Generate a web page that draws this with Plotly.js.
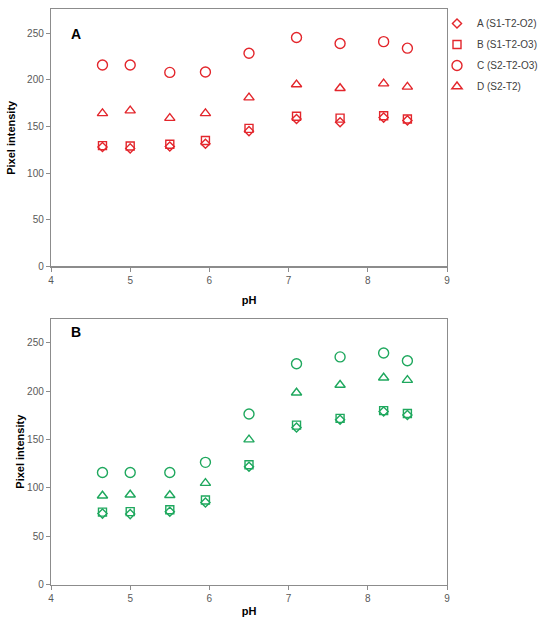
<!DOCTYPE html>
<html>
<head>
<meta charset="utf-8">
<script src="https://cdn.plot.ly/plotly-3.0.1.min.js"></script>
<style>html,body{margin:0;padding:0;background:#fff;}#chart{width:540px;height:618px;}</style>
</head>
<body>
<div id="chart"></div>
<script>
// pH values
const pH = [4.65, 5.0, 5.5, 5.95, 6.5, 7.1, 7.65, 8.2, 8.5];
const seriesNames = ["A (S1-T2-O2)", "B (S1-T2-O3)", "C (S2-T2-O3)", "D (S2-T2)"];
// Panel A
const panelA_A = [128, 126.5, 128.5, 131.5, 145, 158, 154.5, 159.5, 156.5];
const panelA_B = [129.5, 129, 131, 135, 148, 161, 159, 161.5, 158];
const panelA_C = [216, 216, 208, 208.5, 228.5, 245.5, 239, 241, 234];
const panelA_D = [164, 167, 159, 164, 181, 195, 191, 196, 192.5];
// Panel B
const panelB_A = [73.5, 73, 75.5, 85, 122, 162.5, 170.5, 179, 175.5];
const panelB_B = [75, 75.5, 77.5, 87.5, 124, 165, 172, 180, 177];
const panelB_C = [116, 116, 116, 126.5, 176.5, 228.5, 235.5, 239.5, 231.5];
const panelB_D = [92, 93, 92.5, 105, 150, 198.5, 206.5, 214, 211.5];
const xTicks = [4, 5, 6, 7, 8, 9];
const yTicks = [0, 50, 100, 150, 200, 250];

const red = "#e3262c";
const green = "#1fa85e";
const symbols = ["diamond-open", "square-open", "circle-open", "triangle-up-open"];
const sizes = [7, 8, 10, 9];

function mk(vals, i, color, xa, ya, show) {
  return {
    x: pH, y: vals, type: "scatter", mode: "markers",
    name: seriesNames[i], showlegend: show, legendgroup: "g" + i + xa,
    xaxis: xa, yaxis: ya,
    marker: {symbol: symbols[i], size: sizes[i], color: color, line: {width: 1.4, color: color}}
  };
}
const data = [
  mk(panelA_A, 0, red, "x", "y", true),
  mk(panelA_B, 1, red, "x", "y", true),
  mk(panelA_C, 2, red, "x", "y", true),
  mk(panelA_D, 3, red, "x", "y", true),
  mk(panelB_A, 0, green, "x2", "y2", false),
  mk(panelB_B, 1, green, "x2", "y2", false),
  mk(panelB_C, 2, green, "x2", "y2", false),
  mk(panelB_D, 3, green, "x2", "y2", false)
];

const tickFont = {family: "Liberation Sans, Arial, sans-serif", size: 10, color: "#595959"};
const titleFont = {family: "Liberation Sans, Arial, sans-serif", size: 11, color: "#000"};
function xax(anchor, standoff) {
  return {
    domain: [51/540, 447/540], anchor: anchor, range: [4, 9], tickvals: xTicks,
    showgrid: false, zeroline: false, showline: true, linecolor: "#8c8c8c", linewidth: 1.2,
    mirror: true, ticks: "outside", ticklen: 4, tickcolor: "#8c8c8c", tickfont: tickFont,
    title: {text: "<b>pH</b>", font: titleFont, standoff: standoff}, automargin: false
  };
}
function yax(anchor, dom, top, standoff) {
  return {
    domain: dom, anchor: anchor, range: [0, top], tickvals: yTicks,
    showgrid: false, zeroline: false, showline: true, linecolor: "#8c8c8c", linewidth: 1.2,
    mirror: true, ticks: "outside", ticklen: 4, tickcolor: "#8c8c8c", tickfont: tickFont,
    title: {text: "<b>Pixel intensity</b>", font: titleFont, standoff: standoff}, automargin: false
  };
}

const layout = {
  width: 540, height: 618,
  margin: {l: 0, r: 0, t: 0, b: 0, autoexpand: false},
  paper_bgcolor: "#fff", plot_bgcolor: "#fff",
  showlegend: true,
  xaxis: xax("y", 11),
  yaxis: yax("x", [(618-266.3)/618, (618-9.3)/618], 275.7, 9),
  xaxis2: xax("y2", 4),
  yaxis2: yax("x2", [(618-584.7)/618, (618-318.7)/618], 275, 0),
  legend: {
    x: 437/540, y: 1 - 9/618, xanchor: "left", yanchor: "top",
    font: {family: "Liberation Sans, Arial, sans-serif", size: 10, color: "#404040"},
    bgcolor: "rgba(0,0,0,0)", itemwidth: 30, tracegroupgap: 2
  },
  annotations: [
    {text: "<b>A</b>", x: 69/540, y: 1 - 24/618, xref: "paper", yref: "paper", showarrow: false,
     font: {family: "Liberation Sans, Arial, sans-serif", size: 14, color: "#000"}},
    {text: "<b>B</b>", x: 69/540, y: 1 - 332/618, xref: "paper", yref: "paper", showarrow: false,
     font: {family: "Liberation Sans, Arial, sans-serif", size: 14, color: "#000"}}
  ]
};

Plotly.newPlot("chart", data, layout, {displayModeBar: false, staticPlot: true});
</script>
</body>
</html>
